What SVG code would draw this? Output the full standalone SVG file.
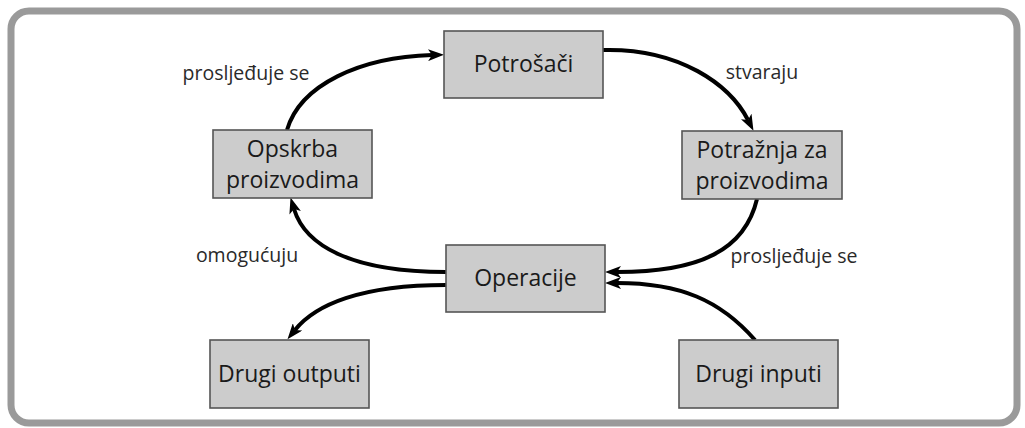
<svg xmlns="http://www.w3.org/2000/svg" width="1025" height="428" viewBox="0 0 1025 428">
<style>
.frame{fill:#fff;stroke:#9a9a9a;stroke-width:7}
.box{fill:#cccccc;stroke:#555;stroke-width:1.6}
.t{font-family:"Open Sans","DejaVu Sans",sans-serif;font-size:23px;fill:#1a1a1a;text-anchor:middle}
.lb{font-family:"Open Sans","DejaVu Sans",sans-serif;font-size:19.5px;fill:#2a2a2a;text-anchor:middle}
.c{fill:none;stroke:#000;stroke-width:4;marker-end:url(#ah)}
</style>
<defs>
<marker id="ah" viewBox="0 0 16 12" refX="4" refY="6" markerWidth="16" markerHeight="12" markerUnits="userSpaceOnUse" orient="auto">
<path d="M0,0 L16,6 L0,12 L4,6 z" fill="#000"/>
</marker>
</defs>
<rect class="frame" x="11" y="11" width="1006" height="412" rx="18"/>
<g id="connectors">
<path class="c" d="M287,130 C300,85 360,57 432,55"/>
<path class="c" d="M603,50 C680,48 730,85 748,120"/>
<path class="c" d="M757,199 C745,250 700,272 617,272"/>
<path class="c" d="M755,340 C720,300 680,283 617,283"/>
<path class="c" d="M446,272 C350,272 305,245 294,209"/>
<path class="c" d="M446,285 C360,285 315,305 295,330"/>
</g>
<g id="labels">
<text class="lb" x="246" y="80">prosljeđuje se</text>
<text class="lb" x="762" y="79">stvaraju</text>
<text class="lb" x="247" y="262">omogućuju</text>
<text class="lb" x="794" y="263">prosljeđuje se</text>
</g>
<g id="potrosaci">
<rect class="box" x="444" y="31" width="159" height="67"/>
<text class="t" x="523.5" y="72">Potrošači</text>
</g>
<g id="opskrba">
<rect class="box" x="213" y="130" width="159" height="68"/>
<text class="t" x="292.5" y="157">Opskrba</text>
<text class="t" x="292.5" y="188">proizvodima</text>
</g>
<g id="potraznja">
<rect class="box" x="682" y="131" width="160" height="68"/>
<text class="t" x="762" y="158">Potražnja za</text>
<text class="t" x="762" y="189">proizvodima</text>
</g>
<g id="operacije">
<rect class="box" x="446" y="245" width="159" height="67"/>
<text class="t" x="525.5" y="286">Operacije</text>
</g>
<g id="drugi-outputi">
<rect class="box" x="210" y="340" width="159" height="68"/>
<text class="t" x="289.5" y="382">Drugi outputi</text>
</g>
<g id="drugi-inputi">
<rect class="box" x="679" y="340" width="159" height="68"/>
<text class="t" x="758.5" y="382">Drugi inputi</text>
</g>
</svg>
